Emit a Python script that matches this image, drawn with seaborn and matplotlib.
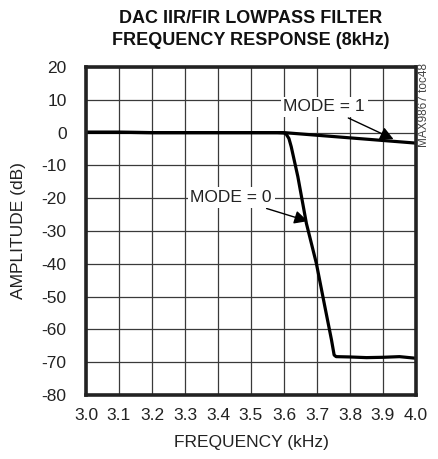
import matplotlib
matplotlib.use("Agg")
import matplotlib.pyplot as plt
import seaborn as sns
import pandas as pd

# Filter response data (frequency in kHz, amplitude in dB)
freq_mode0 = [3.0, 3.1, 3.2, 3.3, 3.4, 3.5, 3.58, 3.6, 3.607, 3.615, 3.622,
              3.642, 3.668, 3.698, 3.724, 3.744, 3.752, 3.758, 3.8, 3.85,
              3.9, 3.95, 4.0]
amp_mode0 = [0.1, 0.1, 0.0, 0.0, 0.0, 0.0, 0.0, -0.1, -0.5, -1.8, -4.3,
             -13.4, -27.7, -39.8, -53.1, -63.2, -67.8, -68.3, -68.4, -68.6,
             -68.5, -68.3, -68.8]

freq_mode1 = [3.0, 3.1, 3.2, 3.3, 3.4, 3.5, 3.6, 3.7, 3.8, 3.9, 4.0]
amp_mode1 = [0.1, 0.1, 0.0, 0.0, 0.0, 0.0, 0.0, -0.8, -1.6, -2.4, -3.2]

x_ticks = [3.0, 3.1, 3.2, 3.3, 3.4, 3.5, 3.6, 3.7, 3.8, 3.9, 4.0]
y_ticks = [20, 10, 0, -10, -20, -30, -40, -50, -60, -70, -80]

df = pd.concat([
    pd.DataFrame({"freq": freq_mode0, "amp": amp_mode0, "mode": "MODE = 0"}),
    pd.DataFrame({"freq": freq_mode1, "amp": amp_mode1, "mode": "MODE = 1"}),
])

sns.set_theme(style="white")
plt.rcParams["font.family"] = ["Liberation Sans", "DejaVu Sans"]

fig = plt.figure(figsize=(4.38, 4.59), dpi=100)
ax = fig.add_axes([0.1963, 0.1394, 0.7534, 0.7146])

sns.lineplot(data=df, x="freq", y="amp", hue="mode", sort=False,
             palette=["black", "black"], linewidth=2.3, legend=False, ax=ax)

ax.set_xlim(3.0, 4.0)
ax.set_ylim(-80, 20)
ax.set_xticks(x_ticks)
ax.set_xticklabels([f"{t:.1f}" for t in x_ticks])
ax.set_yticks(y_ticks)
ax.set_yticklabels([str(t) for t in y_ticks])
ax.grid(True, color="#3a3a3a", linewidth=0.9)
ax.set_axisbelow(True)
for s in ax.spines.values():
    s.set_visible(True)
    s.set_color("#222222")
    s.set_linewidth(2.6)
ax.tick_params(axis="both", length=0, labelsize=12.5, colors="#222222")
ax.tick_params(axis="x", pad=9)
ax.tick_params(axis="y", pad=14)

ax.set_xlabel("FREQUENCY (kHz)", fontsize=12.5, color="#222222", labelpad=9)
ax.set_ylabel("AMPLITUDE (dB)", fontsize=12.5, color="#222222", labelpad=11)
ax.set_title("DAC IIR/FIR LOWPASS FILTER\nFREQUENCY RESPONSE (8kHz)",
             fontsize=13, fontweight="bold", color="#111111",
             linespacing=1.35, pad=16)

box = dict(boxstyle="square,pad=0.15", facecolor="white", edgecolor="none")
arrow = dict(arrowstyle="-|>", color="black", lw=1.0, mutation_scale=20,
             shrinkA=2, shrinkB=0)
ax.annotate("MODE = 1", xy=(3.932, -2.0), xytext=(3.722, 7.9),
            ha="center", va="center", fontsize=12.5, color="#222222",
            bbox=box, arrowprops=arrow)
ax.annotate("MODE = 0", xy=(3.672, -27.0), xytext=(3.44, -19.8),
            ha="center", va="center", fontsize=12.5, color="#222222",
            bbox=box, arrowprops=arrow)

fig.text(0.968, 0.862, "MAX9867 toc48", rotation=90, ha="center", va="top",
         fontsize=8.5, color="#444444")

fig.savefig("out.png", dpi=100)
